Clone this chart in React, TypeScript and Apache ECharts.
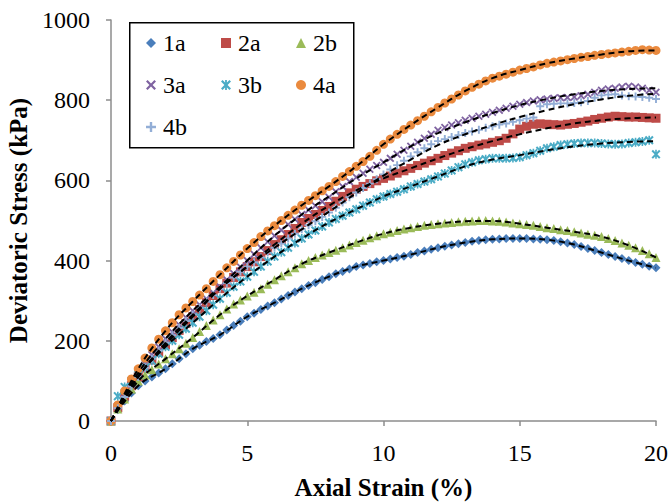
import React, { useEffect, useRef } from 'react';
import * as echarts from 'echarts';

// Axial strain (%) at which each marker was read
const STRAIN = [
  0, 0.25, 0.5, 0.75, 1, 1.25, 1.5, 1.75, 2, 2.25, 2.5, 2.75, 3, 3.25, 3.5, 3.75, 4, 4.25, 4.5, 4.75,
  5, 5.25, 5.5, 5.75, 6, 6.25, 6.5, 6.75, 7, 7.25, 7.5, 7.75, 8, 8.25, 8.5, 8.75, 9, 9.25, 9.5, 9.75,
  10, 10.25, 10.5, 10.75, 11, 11.25, 11.5, 11.75, 12, 12.25, 12.5, 12.75, 13, 13.25, 13.5, 13.75, 14, 14.25, 14.5, 14.75,
  15, 15.25, 15.5, 15.75, 16, 16.25, 16.5, 16.75, 17, 17.25, 17.5, 17.75, 18, 18.25, 18.5, 18.75, 19, 19.25, 19.5, 19.75, 20,
];

// Deviatoric stress (kPa) per specimen
const S_1A = [
  0, 28, 50, 70, 88, 100, 110, 120, 130, 143, 155, 168, 180, 189, 198, 206, 215, 227, 238, 249,
  260, 269, 278, 287, 295, 304, 313, 322, 330, 338, 345, 353, 360, 367, 373, 379, 385, 389, 393, 397,
  400, 404, 408, 411, 415, 420, 424, 428, 432, 436, 439, 442, 445, 448, 450, 452, 453, 454, 455, 455,
  455, 455, 454, 453, 452, 450, 447, 444, 440, 435, 430, 425, 420, 415, 410, 405, 400, 395, 391, 386, 382,
];
const S_2A = [
  0, 33, 62, 88, 110, 132, 152, 171, 190, 208, 226, 243, 260, 278, 295, 313, 330, 344, 358, 372,
  385, 397, 410, 425, 440, 452, 465, 480, 495, 505, 515, 525, 535, 548, 560, 569, 578, 585, 592, 599,
  605, 611, 618, 624, 630, 637, 643, 649, 655, 662, 668, 674, 680, 684, 688, 691, 695, 699, 705, 716,
  728, 735, 740, 741, 740, 739, 738, 740, 742, 745, 748, 752, 755, 758, 760, 759, 758, 758, 757, 756, 755,
];
const S_2B = [
  0, 30, 55, 80, 100, 115, 128, 142, 155, 168, 180, 194, 208, 223, 238, 252, 265, 279, 292, 302,
  312, 321, 330, 341, 352, 362, 372, 382, 392, 400, 408, 414, 420, 426, 432, 439, 445, 451, 457, 462,
  467, 471, 475, 479, 482, 485, 488, 490, 492, 494, 495, 497, 498, 499, 500, 500, 499, 498, 496, 494,
  492, 490, 488, 485, 482, 480, 477, 475, 472, 469, 466, 463, 460, 455, 450, 444, 438, 432, 425, 417, 408,
];
const S_3A = [
  0, 38, 70, 96, 120, 143, 165, 185, 205, 222, 240, 258, 275, 290, 305, 320, 335, 352, 368, 384,
  400, 416, 432, 447, 462, 476, 490, 503, 515, 526, 537, 547, 558, 572, 585, 597, 608, 618, 628, 637,
  645, 655, 665, 675, 685, 695, 705, 715, 725, 732, 738, 744, 750, 755, 760, 765, 770, 775, 780, 785,
  790, 794, 798, 801, 803, 805, 806, 807, 808, 811, 815, 820, 825, 828, 830, 833, 835, 833, 830, 825, 820,
];
const S_3B = [
  0, 62, 85, 100, 115, 133, 150, 168, 185, 200, 215, 230, 245, 260, 275, 290, 305, 320, 335, 348,
  360, 372, 385, 398, 410, 421, 432, 444, 455, 465, 475, 485, 495, 504, 512, 520, 528, 537, 545, 553,
  560, 566, 572, 578, 585, 591, 597, 603, 610, 617, 625, 633, 640, 645, 650, 653, 655, 655, 655, 656,
  658, 663, 668, 674, 680, 684, 688, 690, 692, 693, 693, 693, 692, 691, 690, 691, 693, 695, 697, 700, 665,
];
const S_4A = [
  0, 40, 75, 105, 130, 157, 182, 204, 225, 245, 265, 282, 298, 314, 330, 348, 365, 382, 398, 414,
  430, 445, 460, 474, 487, 500, 513, 526, 538, 550, 562, 574, 585, 597, 610, 622, 635, 647, 660, 675,
  690, 703, 715, 727, 738, 749, 760, 771, 782, 793, 803, 813, 823, 832, 840, 848, 855, 860, 865, 870,
  875, 879, 883, 888, 892, 895, 898, 901, 904, 907, 909, 912, 914, 916, 918, 920, 922, 924, 926, 925, 924,
];
const S_4B = [
  0, 32, 60, 86, 110, 133, 155, 175, 195, 214, 232, 249, 265, 282, 298, 314, 330, 344, 358, 372,
  385, 396, 408, 420, 432, 443, 455, 467, 478, 488, 498, 509, 520, 532, 545, 558, 570, 581, 592, 603,
  615, 627, 638, 649, 660, 670, 680, 690, 698, 703, 708, 713, 718, 722, 726, 731, 735, 739, 742, 746,
  750, 754, 757, 785, 790, 791, 792, 792, 793, 795, 798, 806, 812, 814, 815, 812, 810, 809, 808, 806, 803,
];

// Fitted trend lines (black dashed), read at whole-percent strains
const FIT_STRAIN = [0, 1, 2, 3, 4, 5, 6, 7, 8, 9, 10, 11, 12, 13, 14, 15, 16, 17, 18, 19, 20];
const FIT_1A = [0, 88, 130, 180, 215, 260, 295, 330, 360, 385, 400, 415, 432, 445, 453, 455, 452, 440, 420, 400, 382];
const FIT_2A = [0, 110, 190, 260, 330, 385, 440, 492, 537, 575, 605, 630, 655, 678, 698, 715, 730, 742, 750, 755, 757];
const FIT_2B = [0, 100, 155, 208, 265, 312, 352, 392, 420, 445, 467, 482, 492, 498, 499, 492, 482, 472, 460, 438, 408];
const FIT_3A = [0, 120, 205, 275, 335, 400, 462, 515, 560, 605, 645, 685, 718, 745, 768, 788, 803, 815, 823, 828, 830];
const FIT_3B = [0, 112, 185, 245, 305, 360, 410, 455, 495, 528, 560, 585, 610, 635, 652, 663, 675, 685, 692, 696, 698];
const FIT_4A = [0, 130, 225, 298, 365, 430, 487, 538, 585, 635, 690, 738, 782, 823, 855, 875, 892, 904, 914, 922, 924];
const FIT_4B = [0, 110, 195, 265, 330, 385, 432, 478, 522, 568, 612, 652, 688, 715, 738, 758, 775, 790, 802, 811, 816];

const NAMES = ['1a', '2a', '2b', '3a', '3b', '4a', '4b'];
const VALUES = [S_1A, S_2A, S_2B, S_3A, S_3B, S_4A, S_4B];
const FITS = [FIT_1A, FIT_2A, FIT_2B, FIT_3A, FIT_3B, FIT_4A, FIT_4B];

const X_PATH = 'path://M1.6,0L5,3.4L8.4,0L10,1.6L6.6,5L10,8.4L8.4,10L5,6.6L1.6,10L0,8.4L3.4,5L0,1.6Z';
const STAR_PATH = 'path://M1.6,0L5,3.4L8.4,0L10,1.6L6.6,5L10,8.4L8.4,10L5,6.6L1.6,10L0,8.4L3.4,5L0,1.6ZM4.1,0L5.9,0L5.9,10L4.1,10Z';
const PLUS_PATH = 'path://M3.8,0L6.2,0L6.2,3.8L10,3.8L10,6.2L6.2,6.2L6.2,10L3.8,10L3.8,6.2L0,6.2L0,3.8L3.8,3.8Z';

const COLORS = ['#4A7EBB', '#BE4B48', '#9BBB59', '#7F63A1', '#4BACC6', '#EA8A3E', '#93AED6'];
const SYMBOLS = ['diamond', 'rect', 'triangle', X_PATH, STAR_PATH, 'circle', PLUS_PATH];
const SIZES = [9, 9, 9, 8, 9, 9, 8];

const FONT = 'Liberation Serif, Times New Roman, serif';

export default function App() {
  const ref = useRef<HTMLDivElement>(null);
  useEffect(() => {
    if (!ref.current) return;
    const chart = echarts.init(ref.current, undefined, { renderer: 'svg' });

    const scatter = NAMES.map((name, k) => ({
      name,
      type: 'scatter',
      symbol: SYMBOLS[k],
      symbolSize: SIZES[k],
      itemStyle: { color: COLORS[k], opacity: 1 },
      data: STRAIN.map((x, i) => [x, VALUES[k][i]]),
      z: 2 + k * 0.01,
      silent: true,
    }));
    const fits = NAMES.map((name, k) => ({
      name: 'fit ' + name,
      type: 'line',
      smooth: 0.4,
      showSymbol: false,
      symbol: 'none',
      lineStyle: { color: '#000', width: 2, type: [6, 4] },
      data: FIT_STRAIN.map((x, i) => [x, FITS[k][i]]),
      z: 5,
      silent: true,
    }));

    const legendCol = (names: string[], left: number) => ({
      data: names.map((n) => ({ name: n, icon: SYMBOLS[NAMES.indexOf(n)] })),
      orient: 'vertical',
      left,
      top: 31,
      padding: 0,
      itemWidth: 10,
      itemHeight: 10,
      itemGap: 18,
      selectedMode: false,
      textStyle: { fontFamily: FONT, fontSize: 24, color: '#000', padding: [0, 0, 0, 2] },
    });

    const axisCommon = {
      type: 'value',
      nameLocation: 'middle',
      nameTextStyle: { fontFamily: FONT, fontSize: 25, fontWeight: 'bold', color: '#000' },
      axisLine: { show: true, lineStyle: { color: '#8c8c8c', width: 1.5 } },
      axisTick: { show: true, inside: false, length: 5, lineStyle: { color: '#8c8c8c', width: 1.5 } },
      splitLine: { show: false },
    };

    chart.setOption({
      animation: false,
      backgroundColor: '#fff',
      grid: { left: 111, right: 14, top: 20, bottom: 81, containLabel: false, outerBoundsMode: 'none' },
      xAxis: {
        ...axisCommon,
        min: 0,
        max: 20,
        interval: 5,
        name: 'Axial Strain (%)',
        nameGap: 54,
        axisLabel: { fontFamily: FONT, fontSize: 24, color: '#000', margin: 20, formatter: (v: number) => String(v) },
      },
      yAxis: {
        ...axisCommon,
        min: 0,
        max: 1000,
        interval: 200,
        name: 'Deviatoric Stress (kPa)',
        nameGap: 78,
        axisLabel: { fontFamily: FONT, fontSize: 24, color: '#000', margin: 21, formatter: (v: number) => String(v) },
      },
      legend: [
        legendCol(['1a', '3a', '4b'], 146),
        legendCol(['2a', '3b'], 221),
        legendCol(['2b', '4a'], 296),
      ],
      graphic: [
        {
          type: 'rect',
          left: 129,
          top: 22,
          shape: { width: 224, height: 125 },
          style: { fill: '#fff', stroke: '#000', lineWidth: 1.5 },
          z: 0,
          silent: true,
        },
      ],
      series: [...scatter, ...fits],
    });
    return () => chart.dispose();
  }, []);
  return (
    <div
      ref={ref}
      style={{ position: 'fixed', left: 0, top: 0, width: 670, height: 502, background: '#fff' }}
    />
  );
}
